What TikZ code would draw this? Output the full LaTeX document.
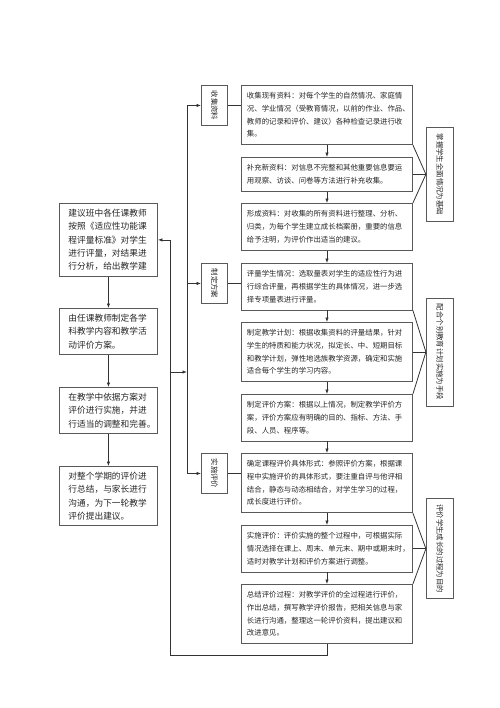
\documentclass[tikz,border=0pt]{standalone}
\usepackage{fontspec}
\newfontfamily\cjk{Noto Sans CJK SC}
\usetikzlibrary{arrows.meta,positioning}

\begin{document}
\begin{tikzpicture}[
  x=1bp, y=-1bp,
  rbox/.style={draw=black!65, line width=0.9bp, anchor=north west, text width=160bp,
    inner xsep=5.5bp, inner ysep=7.1bp, align=left, text=black!85,
    font=\cjk\fontsize{7.4bp}{12.7bp}\selectfont},
  lbox/.style={draw=black!65, line width=0.9bp, anchor=north west, text width=80bp,
    inner xsep=9bp, inner ysep=5.5bp, align=left, text=black!85,
    font=\cjk\fontsize{8.7bp}{13.4bp}\selectfont},
  pbox/.style={draw=black!65, line width=0.9bp, anchor=north west, inner sep=0pt,
    minimum width=26bp, minimum height=40bp, text=black!85,
    font=\cjk\fontsize{7.4bp}{9bp}\selectfont},
  sbox/.style={draw=black!65, line width=0.9bp, inner sep=0pt, minimum width=27bp,
    text=black!85, font=\cjk\fontsize{7.4bp}{9bp}\selectfont},
  link/.style={line width=0.8bp, draw=black!80},
  arr/.style={link, -{Latex[length=4.5bp,width=3.5bp]}}
]
  \useasboundingbox (0,0) rectangle (500,708);

  % --- COLUMNA DERECHA ---
  \node[rbox] (r1) at (241,85)  {收集现有资料：对每个学生的自然情况、家庭情\\况、学业情况（受教育情况，以前的作业、作品、\\教师的记录和评价、建议）各种检查记录进行收\\集。};
  \node[rbox] (r2) at (241,157) {补充新资料：对信息不完整和其他重要信息要运\\用观察、访谈、问卷等方法进行补充收集。};
  \node[rbox] (r3) at (241,203) {形成资料：对收集的所有资料进行整理、分析、\\归类，为每个学生建立成长档案册，重要的信息\\给予注明，为评价作出适当的建议。};
  \node[rbox] (r4) at (241,263) {评量学生情况：选取量表对学生的适应性行为进\\行综合评量，再根据学生的具体情况，进一步选\\择专项量表进行评量。};
  \node[rbox] (r5) at (241,322) {制定教学计划：根据收集资料的评量结果，针对\\学生的特质和能力状况，拟定长、中、短期目标\\和教学计划，弹性地选族教学资源，确定和实施\\适合每个学生的学习内容。};
  \node[rbox] (r6) at (241,394) {制定评价方案：根据以上情况，制定教学评价方\\案，评价方案应有明确的目的、指标、方法、手\\段、人员、程序等。};
  \node[rbox] (r7) at (241,453) {确定课程评价具体形式：参照评价方案，根据课\\程中实施评价的具体形式，要注重自评与他评相\\结合，静态与动态相结合，对学生学习的过程，\\成长度进行评价。};
  \node[rbox] (r8) at (241,525) {实施评价：评价实施的整个过程中，可根据实际\\情况选择在课上、周末、单元末、期中或期末时，\\适时对教学计划和评价方案进行调整。};
  \node[rbox] (r9) at (241,584) {总结评价过程：对教学评价的全过程进行评价，\\作出总结，撰写教学评价报告，把相关信息与家\\长进行沟通，整理这一轮评价资料，提出建议和\\改进意见。};

  \foreach \a/\b in {r1/r2, r2/r3, r3/r4, r4/r5, r5/r6, r6/r7, r7/r8, r8/r9}
    \draw[arr] (\a.south) -- (\b.north);

  % --- FASES ---
  \node[pbox] (p1) at (201,85)  {\rotatebox{-90}{收集资料}};
  \node[pbox] (p2) at (201,263) {\rotatebox{-90}{制定方案}};
  \node[pbox] (p3) at (201,453) {\rotatebox{-90}{实施评价}};

  \draw[link] (p1.east) -- (p1.east -| r1.west);
  \draw[link] (p2.east) -- (p2.east -| r4.west);
  \draw[link] (p3.east) -- (p3.east -| r7.west);

  % --- ETIQUETAS LATERALES ---
  \node[sbox, minimum height=94bp,  right=13bp of r2] (s1) {\rotatebox{-90}{掌握学生全面情况为基础}};
  \node[sbox, minimum height=108bp, right=13bp of r5] (s2) {\rotatebox{-90}{配合个别教育计划实施为手段}};
  \node[sbox, minimum height=100bp, right=13bp of r8] (s3) {\rotatebox{-90}{评价学生成长的过程为目的}};

  \draw[link] (r1.south east) -- (s1.west) -- (r3.north east);
  \draw[link] (r2.east) -- (s1.west);
  \draw[link] (r4.south east) -- (s2.west) -- (r6.north east);
  \draw[link] (r5.east) -- (s2.west);
  \draw[link] (r7.south east) -- (s3.west) -- (r9.north east);
  \draw[link] (r8.east) -- (s3.west);

  % --- COLUMNA IZQUIERDA ---
  \node[lbox] (a1) at (59,203) {建议班中各任课教师\\按照《适应性功能课\\程评量标准》对学生\\进行评量，对结果进\\行分析，给出教学建};
  \node[lbox] (a2) at (59,308) {由任课教师制定各学\\科教学内容和教学活\\动评价方案。};
  \node[lbox] (a3) at (59,387) {在教学中依据方案对\\评价进行实施，并进\\行适当的调整和完善。};
  \node[lbox] (a4) at (59,466) {对整个学期的评价进\\行总结，与家长进行\\沟通，为下一轮教学\\评价提出建议。};

  \foreach \a/\b in {a1/a2, a2/a3, a3/a4}
    \draw[arr] (\a.south) -- (\b.north);

  % --- LINEAS DE RETORNO ---
  \coordinate (trunk) at (187,0);
  \coordinate (back)  at (170,0);
  \coordinate (loop)  at (0,655);
  \coordinate (join)  at (0,372);

  \draw[link] (p1.west -| trunk) -- (p3.west -| trunk);
  \foreach \p in {p1,p2,p3}
    \draw[arr] (\p.west -| trunk) -- (\p.west);

  \draw[arr] (r9.south) |- (back |- loop) -- (back |- a1.east) -- (a1.east);
  \draw[arr] (back |- join) -- (trunk |- join);
\end{tikzpicture}
\end{document}
